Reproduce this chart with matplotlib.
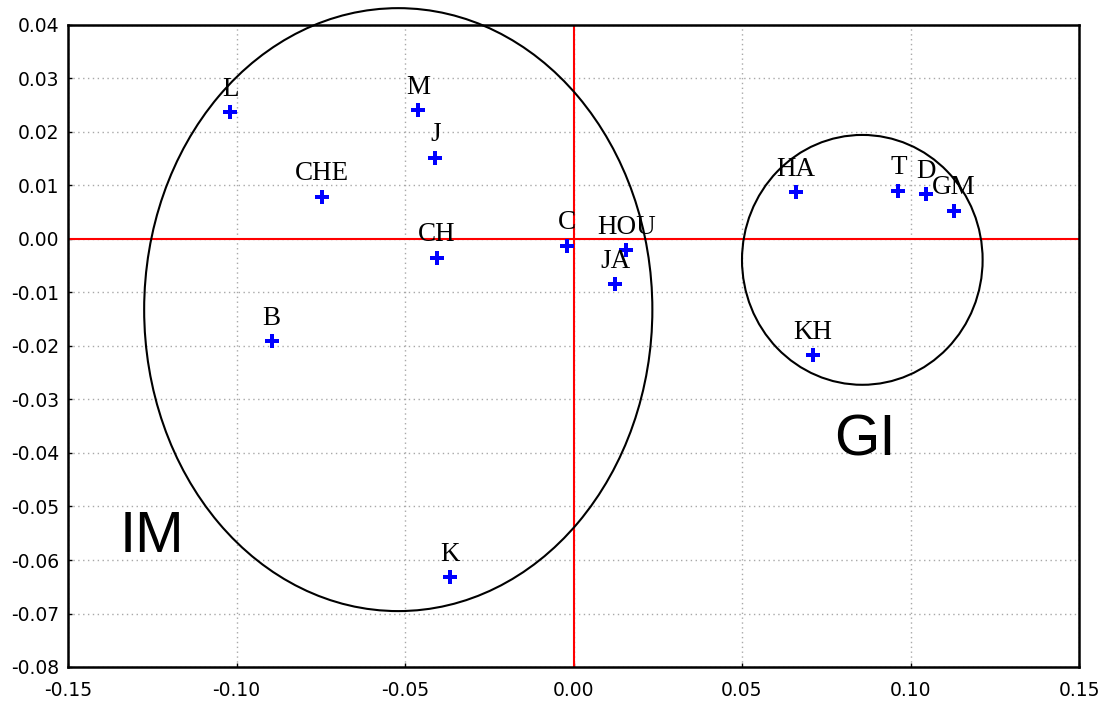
import matplotlib
matplotlib.use("Agg")
import matplotlib.pyplot as plt
from matplotlib.patches import Ellipse

# Data
labels = ["L", "M", "J", "CHE", "CH", "C", "HOU", "JA", "B", "K",
          "HA", "T", "D", "GM", "KH"]
x_vals = [-0.1018, -0.0461, -0.0410, -0.0746, -0.0405, -0.0020, 0.0157, 0.0124,
          -0.0896, -0.0366, 0.0660, 0.0964, 0.1047, 0.1128, 0.0711]
y_vals = [0.0237, 0.0241, 0.0152, 0.0079, -0.0035, -0.00125, -0.0021, -0.0085,
          -0.0191, -0.0632, 0.0087, 0.0090, 0.0084, 0.0053, -0.0217]

group_names = ["IM", "GI"]
group_text_x = [-0.125, 0.0866]
group_text_y = [-0.0557, -0.0376]
ellipse_cx = [-0.0520, 0.0857]
ellipse_cy = [-0.0132, -0.0039]
ellipse_w = [0.1508, 0.0714]
ellipse_h = [0.1127, 0.0467]

xticks = [-0.15, -0.10, -0.05, 0.00, 0.05, 0.10, 0.15]
yticks = [-0.08, -0.07, -0.06, -0.05, -0.04, -0.03, -0.02, -0.01, 0.00, 0.01, 0.02, 0.03, 0.04]

fig = plt.figure(figsize=(11.12, 7.04), dpi=100)
ax = fig.add_axes([68/1112, 37/704, (1079-68)/1112, (667-25)/704])

ax.set_xlim(-0.15, 0.15)
ax.set_ylim(-0.08, 0.04)
ax.set_xticks(xticks)
ax.set_yticks(yticks)
ax.set_xticklabels([f"{v:.2f}" for v in xticks])
ax.set_yticklabels([f"{v:.2f}" for v in yticks])
ax.tick_params(direction="in", length=3, width=1, labelsize=13.5, pad=6)
ax.tick_params(axis="x", pad=10)
ax.grid(True, color="#a8a8a8", linestyle=(0, (1, 2.5)), linewidth=1)
ax.set_axisbelow(True)
for s in ax.spines.values():
    s.set_linewidth(1.8)
    s.set_color("black")

ax.axhline(0, color="red", lw=1.5, zorder=2)
ax.axvline(0, color="red", lw=1.5, zorder=2)

for cx, cy, w, h in zip(ellipse_cx, ellipse_cy, ellipse_w, ellipse_h):
    e = Ellipse((cx, cy), w, h, fill=False, edgecolor="black", lw=1.5,
                clip_on=False, zorder=3)
    ax.add_patch(e)

ax.plot(x_vals, y_vals, linestyle="none", marker="P", markersize=10,
        color="#0000ff", markeredgewidth=0, zorder=4)

for lab, x, y in zip(labels, x_vals, y_vals):
    ax.annotate(lab, (x, y), xytext=(0, 16.5), textcoords="offset points",
                ha="center", va="center", fontsize=19.5,
                family="Liberation Serif", color="black", zorder=5)

for name, x, y in zip(group_names, group_text_x, group_text_y):
    ax.text(x, y, name, ha="center", va="center", fontsize=42,
            family="Liberation Sans", color="black")

fig.savefig("out.png", dpi=100)
